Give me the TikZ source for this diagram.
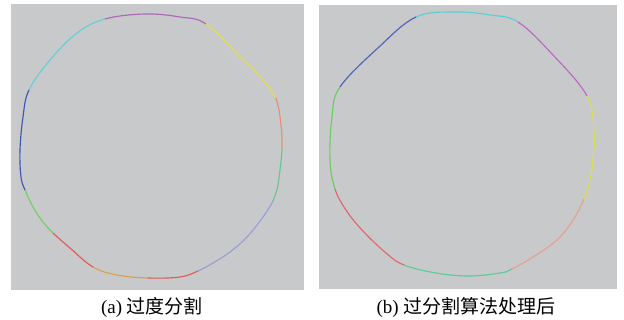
\documentclass[tikz,border=0pt]{standalone}
\usepackage{fontspec}
\setmainfont{Liberation Serif}
\newfontfamily\cjk{Noto Sans CJK SC}
\usetikzlibrary{calc}
\definecolor{bg}{HTML}{C8C9CB}
% left colours
\definecolor{lpurple}{HTML}{AC68B6}
\definecolor{lyellow}{HTML}{E2DE4A}
\definecolor{lsalmon}{HTML}{E88E78}
\definecolor{lgreen}{HTML}{66C88A}
\definecolor{llav}{HTML}{9C9CD8}
\definecolor{lred}{HTML}{E05A5A}
\definecolor{lorange}{HTML}{D8A050}
\definecolor{lgreenb}{HTML}{78CC64}
\definecolor{lblue}{HTML}{3F55B5}
\definecolor{lcyan}{HTML}{66D0D4}
% right colours
\definecolor{rcyan}{HTML}{5CCFD6}
\definecolor{rpurple}{HTML}{B86CC0}
\definecolor{ryellow}{HTML}{DCDC50}
\definecolor{rsalmon}{HTML}{E8A090}
\definecolor{rgreen}{HTML}{5CCC98}
\definecolor{rred}{HTML}{E06670}
\definecolor{rgreenb}{HTML}{6CCC60}
\definecolor{rblue}{HTML}{5560B8}
\tikzset{curve/.style={line width=1.15pt, line join=round},
  panel/.style={fill=bg, draw=none},
  caption/.style={font=\fontsize{19}{21}\selectfont, inner sep=0pt}}
\newcommand\leftcurve[1]{\draw[curve,#1] plot[smooth cycle,tension=0.62] coordinates {(105,19) (145,14) (180,17) (206,24) (240,57) (262,79) (276,99) (281,125) (282,148) (280,170) (277,190) (273,201) (263,217) (247,237) (230,252) (213,263) (198,271) (180,277) (148,278) (117,275) (93,267) (70,248) (53,233) (43,222) (33,207) (25,190) (21,177) (20,150) (23,117) (29,90) (50,60) (77,33)};}
\newcommand\rightcurve[1]{\draw[curve,#1] plot[smooth cycle,tension=0.62] coordinates {(416,17) (455,12) (490,15) (518,22) (552,54) (587,96) (594,133) (593,160) (590,180) (584,199) (573,220) (557,240) (533,257) (512,269) (500,273) (469,276) (436,273) (404,265) (386,253) (362,230) (346,210) (335,189) (330,160) (332,117) (340,87) (379,47)};}
\newcommand\wedgeL[3]{\begin{scope}\clip (cL) -- ($(cL)!4!#1$) -- ($(cL)!4!#2$) -- cycle;\leftcurve{#3}\end{scope}}
\newcommand\wedgeR[3]{\begin{scope}\clip (cR) -- ($(cR)!4!#1$) -- ($(cR)!4!#2$) -- cycle;\rightcurve{#3}\end{scope}}
\begin{document}
\begin{tikzpicture}[x=1pt,y=-1pt]
\useasboundingbox (0,0) rectangle (624,320);
\fill[panel] (11,4) rectangle (304,290);
\fill[panel] (319,5) rectangle (617,289);
\coordinate (cL) at (151,146);
\coordinate (cR) at (462,145);
% left panel segments
\wedgeL{(105,19)}{(206,24)}{lpurple}
\wedgeL{(206,24)}{(276,98)}{lyellow}
\wedgeL{(276,98)}{(282,148)}{lsalmon}
\wedgeL{(282,148)}{(273,201)}{lgreen}
\wedgeL{(273,201)}{(198,271)}{llav}
\wedgeL{(198,271)}{(148,278)}{lred}
\wedgeL{(148,278)}{(93,267)}{lorange}
\wedgeL{(93,267)}{(53,233)}{lred}
\wedgeL{(53,233)}{(25,190)}{lgreenb}
\wedgeL{(25,190)}{(29,90)}{lblue}
\wedgeL{(29,90)}{(105,19)}{lcyan}
% right panel segments
\wedgeR{(416,17)}{(518,22)}{rcyan}
\wedgeR{(518,22)}{(587,96)}{rpurple}
\wedgeR{(587,96)}{(584,199)}{ryellow}
\wedgeR{(584,199)}{(512,269)}{rsalmon}
\wedgeR{(512,269)}{(404,265)}{rgreen}
\wedgeR{(404,265)}{(335,189)}{rred}
\wedgeR{(335,189)}{(340,87)}{rgreenb}
\wedgeR{(340,87)}{(416,17)}{rblue}
% captions
\node[caption] (capa) at (152,307) {(a) {\cjk 过度分割}};
\node[caption] (capb) at (466,307) {(b) {\cjk 过分割算法处理后}};
\end{tikzpicture}
\end{document}
